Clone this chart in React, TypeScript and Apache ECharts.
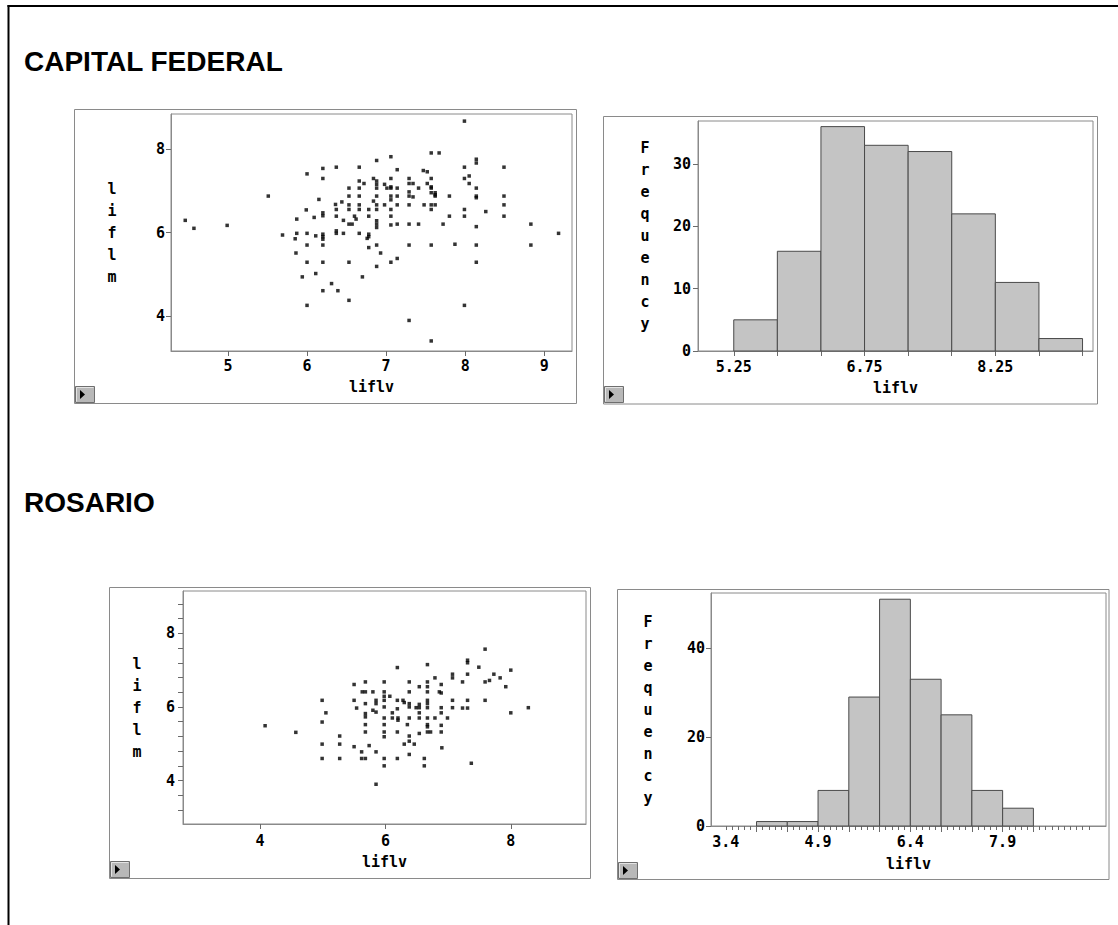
import React, { useEffect, useRef } from "react";
import * as echarts from "echarts";

// ---------- DATA ----------
const capitalPoints: number[][] = [
  [7.99, 8.66], [7.57, 7.9], [7.67, 7.9], [7.06, 7.81], [6.88, 7.72], [8.14, 7.75], [8.14, 7.66],
  [6.2, 7.53], [6.37, 7.56], [6.66, 7.56], [7.14, 7.5], [7.99, 7.56], [8.49, 7.56], [7.47, 7.48], [7.52, 7.45],
  [6.0, 7.4], [6.2, 7.29], [6.84, 7.29], [7.06, 7.29], [7.29, 7.29], [7.57, 7.29], [7.99, 7.29], [8.05, 7.35],
  [6.66, 7.23], [6.88, 7.23], [6.72, 7.17], [6.88, 7.15], [6.98, 7.15], [7.06, 7.09], [7.29, 7.17], [7.34, 7.17],
  [7.52, 7.17], [8.05, 7.17], [7.57, 7.09],
  [6.53, 7.06], [6.66, 7.06], [6.88, 7.06], [7.01, 7.06], [7.06, 7.06], [7.14, 7.06], [7.41, 7.06], [7.57, 7.06], [8.14, 7.06],
  [7.29, 6.97], [7.29, 6.87], [7.34, 6.85], [7.57, 6.95], [7.62, 6.95], [7.62, 6.87], [7.62, 6.9], [7.06, 6.87],
  [7.06, 6.78], [6.88, 6.87], [7.14, 6.87], [6.66, 6.87], [6.53, 6.87], [7.8, 6.87], [8.14, 6.87], [8.14, 6.83],
  [8.49, 6.87], [5.51, 6.87],
  [6.15, 6.79], [6.84, 6.75], [6.36, 6.67], [6.44, 6.73], [6.53, 6.66], [6.66, 6.66], [6.88, 6.66], [6.98, 6.66],
  [7.14, 6.66], [7.29, 6.66], [7.48, 6.66], [7.57, 6.66], [7.62, 6.66], [8.49, 6.66],
  [5.99, 6.54], [6.37, 6.55], [6.53, 6.55], [6.66, 6.55], [6.78, 6.55], [6.88, 6.55], [7.06, 6.55], [7.57, 6.55],
  [7.99, 6.55], [8.26, 6.5],
  [6.2, 6.47], [6.2, 6.4], [6.37, 6.39], [6.6, 6.39], [6.78, 6.39], [7.06, 6.39], [7.8, 6.39], [7.99, 6.39], [8.49, 6.39],
  [6.09, 6.36], [5.87, 6.32], [6.46, 6.29], [6.62, 6.32], [6.88, 6.28],
  [4.46, 6.29], [4.57, 6.1], [4.99, 6.17],
  [6.53, 6.2], [6.57, 6.2], [6.88, 6.2], [6.88, 6.12], [7.06, 6.18], [7.14, 6.2], [7.29, 6.2], [7.41, 6.2],
  [7.72, 6.2], [8.14, 6.14], [8.83, 6.2],
  [5.69, 5.94], [5.87, 5.98], [5.85, 5.85], [6.0, 5.98], [6.11, 5.92], [6.2, 5.96], [6.2, 5.9], [6.2, 5.84],
  [6.37, 6.04], [6.37, 5.98], [6.46, 5.98], [6.66, 5.98], [6.78, 5.96], [6.78, 5.9], [6.76, 5.86], [9.18, 5.98],
  [6.0, 5.7], [6.2, 5.7], [6.78, 5.64], [6.88, 5.7], [7.29, 5.7], [7.57, 5.7], [7.87, 5.72], [8.14, 5.7], [8.83, 5.7],
  [5.86, 5.51], [6.93, 5.51],
  [6.0, 5.29], [6.2, 5.29], [6.53, 5.29], [7.06, 5.29], [7.14, 5.38], [8.14, 5.29], [6.88, 5.19],
  [5.94, 4.94], [6.11, 5.02], [6.7, 4.94], [6.31, 4.78],
  [6.2, 4.61], [6.39, 4.61], [6.53, 4.38], [6.0, 4.26], [7.99, 4.26], [7.29, 3.9], [7.57, 3.41],
];

const rosarioPoints: number[][] = [
  [4.08, 5.49], [4.57, 5.31],
  [4.99, 6.18], [4.99, 5.59], [5.05, 5.84], [4.99, 4.99], [4.99, 4.6],
  [5.27, 5.21], [5.27, 4.99], [5.27, 4.6],
  [5.5, 6.61], [5.5, 6.18], [5.5, 4.92], [5.54, 5.97],
  [5.62, 4.78], [5.62, 4.6], [5.68, 4.6],
  [5.68, 6.68], [5.68, 6.09], [5.68, 5.82], [5.68, 5.73], [5.68, 5.52], [5.68, 5.32],
  [5.74, 4.95],
  [5.63, 6.41], [5.68, 6.41], [5.8, 6.41],
  [5.8, 5.91], [5.85, 5.86], [5.85, 6.18], [5.85, 4.78], [5.85, 3.9], [5.85, 6.09],
  [5.98, 6.68], [5.98, 6.41], [5.98, 6.29], [5.98, 6.18], [5.98, 6.0], [5.98, 5.7], [5.98, 5.52], [5.98, 5.32],
  [5.98, 5.19], [5.98, 4.6], [5.98, 4.4],
  [6.07, 6.29], [6.11, 5.84], [6.11, 5.7],
  [6.19, 7.07], [6.19, 6.18], [6.19, 5.95], [6.2, 5.7], [6.2, 5.64], [6.19, 5.32], [6.19, 4.6],
  [6.28, 6.18], [6.3, 4.99], [6.3, 6.12],
  [6.38, 6.68], [6.38, 6.41], [6.38, 6.09], [6.38, 6.0], [6.38, 5.7], [6.35, 5.52], [6.38, 5.21], [6.38, 5.07], [6.38, 4.71],
  [6.46, 4.99],
  [6.49, 5.98], [6.54, 6.55], [6.54, 6.07], [6.54, 5.98], [6.54, 5.84], [6.54, 5.7], [6.54, 5.28],
  [6.62, 4.6], [6.62, 4.4],
  [6.67, 7.15], [6.67, 6.68], [6.67, 6.55], [6.67, 6.41], [6.67, 6.18], [6.67, 6.09], [6.67, 5.98], [6.67, 5.7],
  [6.67, 5.52], [6.67, 5.46], [6.67, 5.32], [6.72, 5.32],
  [6.79, 6.79], [6.79, 5.7],
  [6.86, 6.41], [6.89, 6.38], [6.89, 6.61], [6.89, 5.98], [6.89, 5.84], [6.89, 5.5], [6.89, 5.32], [6.9, 4.89],
  [6.99, 5.7],
  [7.07, 6.89], [7.07, 6.79], [7.07, 6.18], [7.07, 5.98],
  [7.23, 6.68], [7.23, 5.97],
  [7.31, 7.27], [7.31, 7.2], [7.31, 6.89], [7.31, 6.18], [7.31, 5.97],
  [7.37, 4.47],
  [7.49, 7.08],
  [7.59, 7.57], [7.59, 6.68], [7.59, 6.18], [7.66, 6.72],
  [7.73, 6.89], [7.83, 6.79], [7.92, 6.55],
  [8.0, 7.0], [8.0, 5.84],
  [8.28, 5.98],
];

const capitalBinStarts = [5.25, 5.75, 6.25, 6.75, 7.25, 7.75, 8.25, 8.75];
const capitalCounts = [5, 16, 36, 33, 32, 22, 11, 2];
const capitalBinWidth = 0.5;

const rosarioBinStarts = [3.9, 4.4, 4.9, 5.4, 5.9, 6.4, 6.9, 7.4, 7.9];
const rosarioCounts = [1, 1, 8, 29, 51, 33, 25, 8, 4];
const rosarioBinWidth = 0.5;

// tick labels
const capScatterXTicks = [5, 6, 7, 8, 9];
const capScatterYTicks = [4, 6, 8];
const capHistXLabels = [5.25, 6.75, 8.25];
const capHistYTicks = [0, 10, 20, 30];
const rosScatterXTicks = [4, 6, 8];
const rosScatterYLabels = [4, 6, 8];
const rosScatterYTicks = [3.2, 3.6, 4, 4.4, 4.8, 5.2, 5.6, 6, 6.4, 6.8, 7.2, 7.6, 8, 8.4, 8.8];
const rosHistXLabels = [3.4, 4.9, 6.4, 7.9];
const rosHistYTicks = [0, 20, 40];

// ---------- STYLE ----------
const MONO = "'DejaVu Sans Mono', monospace";
const GRAY = "#8a8a8a";
const TICK = "#6a6a6a";

const capHistEdges = [...capitalBinStarts, capitalBinStarts[capitalBinStarts.length - 1] + capitalBinWidth].map(
  (v) => Math.round(v * 100) / 100
);
const rosHistEdges = [...rosarioBinStarts, rosarioBinStarts[rosarioBinStarts.length - 1] + rosarioBinWidth].map(
  (v) => Math.round(v * 100) / 100
);
const rosHistMinorTicks: number[] = [];
for (let i = 34; i <= 93; i++) rosHistMinorTicks.push(i / 10);

const labelStyle = { fontFamily: MONO, fontWeight: "bold" as const, fontSize: 15, color: "#000" };
const nameStyle = { fontFamily: MONO, fontWeight: "bold" as const, fontSize: 15, color: "#000" };

function xAxis(
  gridIndex: number,
  min: number,
  max: number,
  labels: number[],
  ticks: number[],
  nameGap: number,
  margin: number,
  tickLen = 5
) {
  return {
    type: "value",
    gridIndex,
    min,
    max,
    position: "bottom",
    name: "liflv",
    nameLocation: "middle",
    nameGap,
    nameTextStyle: nameStyle,
    axisLine: { show: true, onZero: false, lineStyle: { color: GRAY, width: 1 } },
    axisTick: { show: true, customValues: ticks, length: tickLen, lineStyle: { color: TICK, width: 1 } },
    axisLabel: { show: true, customValues: labels, margin, ...labelStyle },
    splitLine: { show: false },
  };
}

function yAxis(
  gridIndex: number,
  min: number,
  max: number,
  labels: number[],
  ticks: number[],
  name: string,
  nameGap: number,
  margin: number
) {
  return {
    type: "value",
    gridIndex,
    min,
    max,
    position: "left",
    name: name.split("").join("\n"),
    nameLocation: "middle",
    nameRotate: 0,
    nameGap,
    nameTextStyle: {
      ...nameStyle,
      lineHeight: 22,
      align: "center",
      verticalAlign: "middle",
    },
    axisLine: { show: true, onZero: false, lineStyle: { color: GRAY, width: 1 } },
    axisTick: { show: true, customValues: ticks, length: 5, lineStyle: { color: TICK, width: 1 } },
    axisLabel: { show: true, customValues: labels, margin, ...labelStyle },
    splitLine: { show: false },
  };
}

function histSeries(axisIndex: number, starts: number[], counts: number[], width: number) {
  return {
    type: "custom",
    xAxisIndex: axisIndex,
    yAxisIndex: axisIndex,
    silent: true,
    data: starts.map((s, i) => [s, s + width, counts[i]]),
    encode: { x: [0, 1], y: 2 },
    renderItem: (_params: any, api: any) => {
      const p0 = api.coord([api.value(0), 0]);
      const p1 = api.coord([api.value(1), api.value(2)]);
      return {
        type: "rect",
        shape: { x: p0[0], y: p1[1], width: p1[0] - p0[0], height: p0[1] - p1[1] },
        style: { fill: "#c4c4c4", stroke: "#4a4a4a", lineWidth: 1 },
      };
    },
  };
}

function button(x: number, y: number) {
  return {
    type: "group",
    x,
    y,
    children: [
      { type: "rect", shape: { x: 0, y: 0, width: 19, height: 16 }, style: { fill: "#b8b8b8", stroke: "#6e6e6e", lineWidth: 1 } },
      { type: "line", shape: { x1: 1, y1: 1, x2: 18, y2: 1 }, style: { stroke: "#e4e4e4", lineWidth: 1 } },
      { type: "line", shape: { x1: 1, y1: 1, x2: 1, y2: 15 }, style: { stroke: "#e4e4e4", lineWidth: 1 } },
      { type: "polygon", shape: { points: [[4.5, 3.5], [4.5, 12.5], [9.5, 8]] }, style: { fill: "#000" } },
    ],
  };
}

function panel(x: number, y: number, w: number, h: number) {
  return { type: "rect", shape: { x, y, width: w, height: h }, style: { fill: "none", stroke: GRAY, lineWidth: 1 } };
}

function title(text: string, y: number) {
  return {
    type: "text",
    x: 24,
    y,
    style: {
      text,
      fontFamily: "'Liberation Sans', Arial, sans-serif",
      fontWeight: "bold",
      fontSize: 28,
      fill: "#000",
      verticalAlign: "middle",
      align: "left",
    },
  };
}

export default function App() {
  const ref = useRef<HTMLDivElement>(null);

  useEffect(() => {
    if (!ref.current) return;
    const chart = echarts.init(ref.current, undefined, { renderer: "svg" });
    const gridBase = { show: true, borderColor: GRAY, borderWidth: 1, backgroundColor: "transparent", containLabel: false };
    chart.setOption({
      animation: false,
      backgroundColor: "#fff",
      grid: [
        { ...gridBase, left: 171, top: 114, width: 401, height: 237 },
        { ...gridBase, left: 698, top: 121, width: 395, height: 230 },
        { ...gridBase, left: 183, top: 591, width: 403, height: 233 },
        { ...gridBase, left: 711, top: 593, width: 395, height: 233 },
      ],
      xAxis: [
        xAxis(0, 4.28, 9.35, capScatterXTicks, capScatterXTicks, 28, 7),
        xAxis(1, 4.84, 9.37, capHistXLabels, capHistEdges, 29, 8),
        xAxis(2, 2.77, 9.2, rosScatterXTicks, rosScatterXTicks, 30, 9),
        xAxis(3, 3.16, 9.58, rosHistXLabels, rosHistEdges, 30, 8, 6),
        {
          ...xAxis(3, 3.16, 9.58, [], rosHistMinorTicks, 30, 8, 4),
          name: "",
          axisLine: { show: false, onZero: false },
          axisLabel: { show: false },
        },
      ],
      yAxis: [
        yAxis(0, 3.17, 8.83, capScatterYTicks, capScatterYTicks, "liflm", 59, 6),
        yAxis(1, 0, 36.9, capHistYTicks, capHistYTicks, "Frequency", 53, 7),
        yAxis(2, 2.82, 9.15, rosScatterYLabels, rosScatterYTicks, "liflm", 46, 8),
        yAxis(3, 0, 52.4, rosHistYTicks, rosHistYTicks, "Frequency", 63, 6),
      ],
      series: [
        {
          type: "scatter",
          xAxisIndex: 0,
          yAxisIndex: 0,
          symbol: "rect",
          symbolSize: 3.5,
          itemStyle: { color: "#000" },
          data: capitalPoints,
          silent: true,
        },
        histSeries(1, capitalBinStarts, capitalCounts, capitalBinWidth),
        {
          type: "scatter",
          xAxisIndex: 2,
          yAxisIndex: 2,
          symbol: "rect",
          symbolSize: 3.5,
          itemStyle: { color: "#000" },
          data: rosarioPoints,
          silent: true,
        },
        histSeries(3, rosarioBinStarts, rosarioCounts, rosarioBinWidth),
      ],
      graphic: [
        { type: "line", shape: { x1: 8.5, y1: 5, x2: 8.5, y2: 925 }, style: { stroke: "#000", lineWidth: 2 } },
        { type: "line", shape: { x1: 7.5, y1: 6, x2: 1118, y2: 6 }, style: { stroke: "#000", lineWidth: 2 } },
        title("CAPITAL FEDERAL", 61),
        title("ROSARIO", 502),
        panel(74.5, 109.5, 502, 294),
        panel(603.5, 116.5, 494, 287.5),
        panel(109.5, 587.5, 481, 291),
        panel(617.5, 589.5, 491.5, 290),
        button(75.5, 386.5),
        button(604.5, 386.5),
        button(110.5, 861.5),
        button(618.5, 862.5),
      ],
    });
    return () => chart.dispose();
  }, []);

  return (
    <div
      ref={ref}
      style={{ position: "absolute", left: 0, top: 0, width: 1118, height: 925, background: "#fff" }}
    />
  );
}
